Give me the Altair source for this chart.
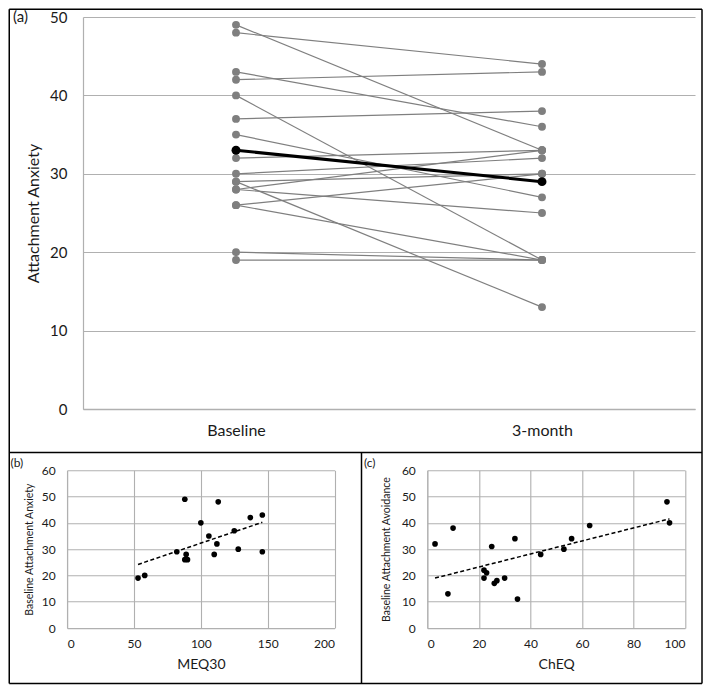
import altair as alt
import pandas as pd

FONT = "Lato"
GRID = "#b0b0b0"
TXT = "#1a1a1a"

# ---------------- data ----------------
# Panel (a): attachment anxiety at two time points (one row per participant)
timepoints = ["Baseline", "3-month"]
baseline_anx = [49, 48, 43, 42, 40, 37, 35, 32, 30, 29, 29, 28, 28, 26, 26, 20, 19]
month3_anx = [33, 44, 36, 43, 19, 38, 27, 33, 32, 30, 13, 25, 33, 30, 19, 19, 19]
mean_anx = [33, 29]

# Panel (b): MEQ30 vs baseline attachment anxiety
meq30 = [53, 58, 82, 88, 89, 88, 90, 100, 106, 110, 112, 113, 125, 128, 137, 146, 146]
anx_b = [19, 20, 29, 49, 28, 26, 26, 40, 35, 28, 32, 48, 37, 30, 42, 43, 29]

# Panel (c): ChEQ vs baseline attachment avoidance
cheq = [3, 8, 10, 22, 22, 23, 25, 26, 27, 30, 34, 35, 44, 53, 56, 63, 93, 94]
avoid_c = [32, 13, 38, 22, 19, 21, 31, 17, 18, 19, 34, 11, 28, 30, 34, 39, 48, 40]

# ---------------- tables ----------------
rows = []
for i, (b0, b3) in enumerate(zip(baseline_anx, month3_anx)):
    rows.append({"id": i, "time": timepoints[0], "value": b0})
    rows.append({"id": i, "time": timepoints[1], "value": b3})
df_a = pd.DataFrame(rows)
df_mean = pd.DataFrame({"time": timepoints, "value": mean_anx})
df_b = pd.DataFrame({"x": meq30, "y": anx_b})
df_c = pd.DataFrame({"x": cheq, "y": avoid_c})
one = pd.DataFrame({"k": [0]})

# ---------------- panel (a) ----------------
xa = alt.X("time:N", sort=timepoints, scale=alt.Scale(domain=timepoints),
           axis=alt.Axis(title=None, labelAngle=0, ticks=False, grid=False,
                         domain=True, domainColor=GRID, domainWidth=1.5,
                         labelFontSize=16, labelPadding=13, labelColor=TXT, labelFont=FONT))
ya = alt.Y("value:Q", scale=alt.Scale(domain=[0, 50]),
           axis=alt.Axis(values=[0, 10, 20, 30, 40, 50], title="Attachment Anxiety",
                         grid=True, gridColor=GRID, gridWidth=1.2, ticks=False,
                         domain=True, domainColor=GRID, domainWidth=1.2,
                         labelFontSize=15, labelPadding=16, labelColor=TXT, labelFont=FONT,
                         titleFontSize=16, titleFontWeight="normal", titleFont=FONT,
                         titleColor=TXT, titlePadding=8))

lines_a = alt.Chart(df_a).mark_line(color="#7f7f7f", strokeWidth=1.2).encode(
    x=xa, y=ya, detail="id:N")
pts_a = alt.Chart(df_a).mark_circle(color="#7f7f7f", size=62, opacity=1).encode(
    x=xa, y=ya)
mean_line = alt.Chart(df_mean).mark_line(color="black", strokeWidth=3).encode(x=xa, y=ya)
mean_pts = alt.Chart(df_mean).mark_circle(color="black", size=80, opacity=1).encode(x=xa, y=ya)

lab_a = alt.Chart(one).mark_text(text="(a)", align="left", baseline="middle",
                                 fontSize=15, font=FONT, color=TXT).encode(
    x=alt.value(-70), y=alt.value(0))


def rule(x1, x2, y1, y2):
    return alt.Chart(one).mark_rule(color="black", strokeWidth=1.5).encode(
        x=alt.value(x1), x2=alt.value(x2), y=alt.value(y1), y2=alt.value(y2))


L, R, T, B, MID, VDIV = -73.75, 619, -7.75, 666.5, 435.5, 278.5
borders = [
    rule(L, R, T, T), rule(L, R, MID, MID), rule(L, R, B, B),
    rule(L, L, T, B), rule(R, R, T, B), rule(VDIV, VDIV, MID, B),
]

panel_a = alt.layer(lines_a, pts_a, mean_line, mean_pts, lab_a, *borders).properties(
    width=612, height=392)


# ---------------- scatter panels ----------------
def scatter(df, xdom, xvals, xtitle, ytitle, xrange, width, yoffset, ytpad, label, labx):
    xs = alt.X("x:Q", scale=alt.Scale(domain=xdom, range=xrange, nice=False),
               axis=alt.Axis(values=xvals, title=xtitle, grid=True, gridColor=GRID,
                             gridWidth=1.1, ticks=False, domain=True, domainColor=GRID,
                             labelFontSize=12, labelPadding=10, labelColor=TXT, labelFont=FONT,
                             titleFontSize=14, titleFontWeight="normal", titleFont=FONT,
                             titleColor=TXT, titlePadding=8))
    ys = alt.Y("y:Q", scale=alt.Scale(domain=[0, 60], nice=False),
               axis=alt.Axis(values=[0, 10, 20, 30, 40, 50, 60], title=ytitle, grid=True,
                             gridColor=GRID, gridWidth=1.1, ticks=False, domain=True,
                             domainColor=GRID, offset=yoffset,
                             labelFontSize=12, labelPadding=12, labelColor=TXT, labelFont=FONT,
                             titleFontSize=10.5, titleFontWeight="normal", titleFont=FONT,
                             titleColor=TXT, titlePadding=ytpad))
    pts = alt.Chart(df).mark_circle(color="black", size=32, opacity=1).encode(x=xs, y=ys)
    trend = alt.Chart(df).transform_regression("x", "y").mark_line(
        color="black", strokeWidth=1.5, strokeDash=[4, 2.5]).encode(x=xs, y=ys)
    lab = alt.Chart(one).mark_text(text=label, align="left", baseline="middle",
                                   fontSize=12, font=FONT, color=TXT).encode(
        x=alt.value(labx), y=alt.value(-7.3))
    return alt.layer(trend, pts, lab).properties(width=width, height=157.7)


panel_b = scatter(df_b, [0, 200], [0, 50, 100, 150, 200], "MEQ30",
                  "Baseline Attachment Anxiety", [-15.8, 251.5], 251.5, 15.8, 7, "(b)", -72.5)
panel_c = scatter(df_c, [0, 100], [0, 20, 40, 60, 80, 100], "ChEQ",
                  "Baseline Attachment Avoidance", [0, 257.7], 257.7, 0, 10, "(c)", -63.3)

bottom = alt.hconcat(panel_b, panel_c, spacing=92.3, bounds="flush")
chart = alt.vconcat(panel_a, bottom, spacing=61.3, bounds="flush").properties(
    padding=0).configure_view(stroke=None)

chart.save("out.html", embed_options={"renderer": "svg", "actions": False})
